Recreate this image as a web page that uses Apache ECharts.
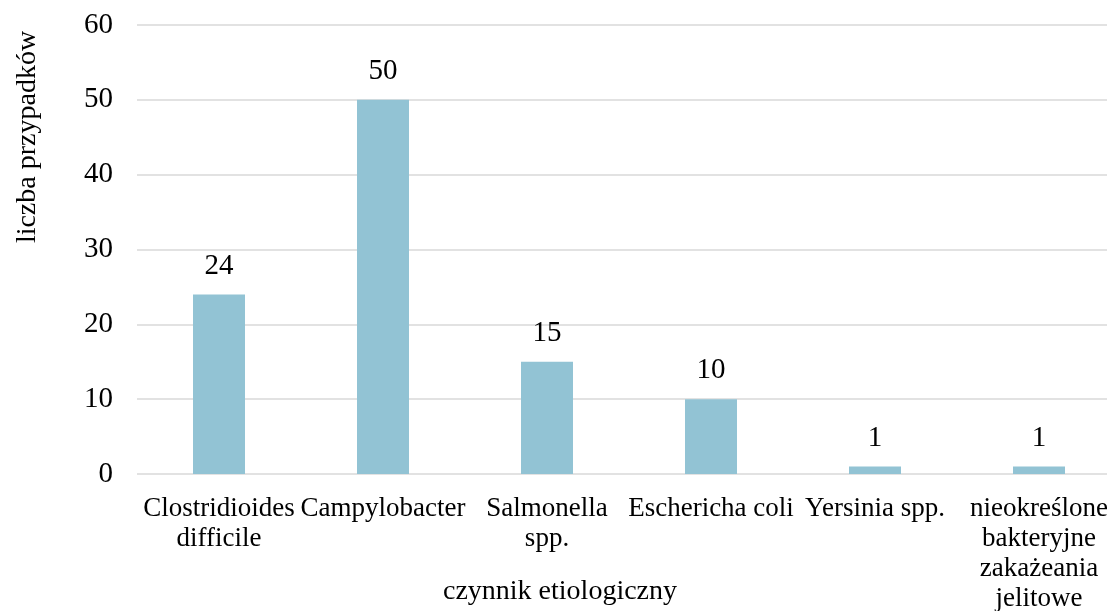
<!DOCTYPE html>
<html>
<head>
<meta charset="utf-8">
<script src="https://cdn.jsdelivr.net/npm/echarts@6/dist/echarts.min.js"></script>
<style>
  html, body { margin: 0; padding: 0; background: #fff; }
  #chart { width: 1107px; height: 611px; }
</style>
</head>
<body>
<div id="chart"></div>
<script>
const categories = [
  'Clostridioides\ndifficile',
  'Campylobacter',
  'Salmonella\nspp.',
  'Eschericha coli',
  'Yersinia spp.',
  'nieokreślone\nbakteryjne\nzakażeania\njelitowe'
]
const cases = [24, 50, 15, 10, 1, 1]
const yTicks = { min: 0, max: 60, interval: 10 }

const font = 'Liberation Serif'
const chart = echarts.init(document.getElementById('chart'))

// the original picture is cropped on the right, so the plot runs past the edge
chart.setOption({
  animation: false,
  textStyle: { fontFamily: font },
  grid: {
    left: 137,
    width: 984,
    top: 25,
    bottom: 137,
    outerBoundsMode: 'none'
  },
  xAxis: {
    type: 'category',
    data: categories,
    axisLine: { show: false },
    axisTick: { show: false },
    axisLabel: {
      interval: 0,
      margin: 20,
      color: '#000',
      fontFamily: font,
      fontSize: 27,
      lineHeight: 30
    }
  },
  yAxis: {
    type: 'value',
    min: yTicks.min,
    max: yTicks.max,
    interval: yTicks.interval,
    axisLine: { show: false },
    axisTick: { show: false },
    axisLabel: {
      margin: 24,
      color: '#000',
      fontFamily: font,
      fontSize: 29
    },
    splitLine: {
      lineStyle: { color: '#d9d9d9', width: 1.5 }
    }
  },
  series: [
    {
      type: 'bar',
      data: cases,
      barWidth: 52,
      itemStyle: { color: '#92c3d4' },
      label: {
        show: true,
        position: 'top',
        distance: 14,
        color: '#000',
        fontFamily: font,
        fontSize: 29
      }
    }
  ],
  graphic: [
    {
      type: 'text',
      x: 28,
      y: 137,
      rotation: Math.PI / 2,
      style: {
        text: 'liczba przypadków',
        fontFamily: font,
        fontSize: 28,
        fill: '#000',
        align: 'center',
        verticalAlign: 'middle'
      }
    },
    {
      type: 'text',
      x: 560,
      y: 592,
      style: {
        text: 'czynnik etiologiczny',
        fontFamily: font,
        fontSize: 28,
        fill: '#000',
        align: 'center',
        verticalAlign: 'middle'
      }
    }
  ]
})
</script>
</body>
</html>
